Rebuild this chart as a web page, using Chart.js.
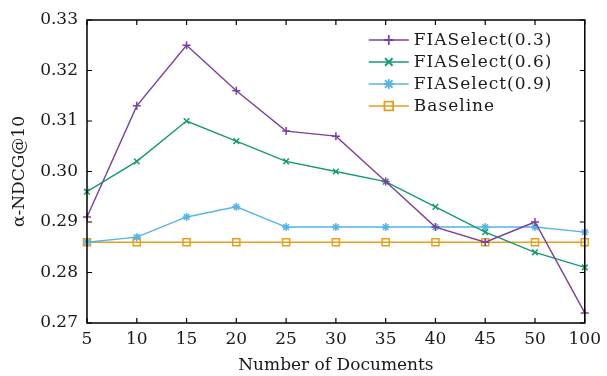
<!DOCTYPE html>
<html>
<head>
<meta charset="utf-8">
<script src="https://cdn.jsdelivr.net/npm/chart.js@4/dist/chart.umd.min.js"></script>
<style>
  html, body { margin: 0; padding: 0; background: #fff; }
  #wrap { width: 607px; height: 376px; }
</style>
</head>
<body>
<div id="wrap"><canvas id="chart"></canvas></div>
<script>
const docCounts = ["5", "10", "15", "20", "25", "30", "35", "40", "45", "50", "100"];
const fia03 = [0.291, 0.313, 0.325, 0.316, 0.308, 0.307, 0.298, 0.289, 0.286, 0.290, 0.272];
const fia06 = [0.296, 0.302, 0.310, 0.306, 0.302, 0.300, 0.298, 0.293, 0.288, 0.284, 0.281];
const fia09 = [0.286, 0.287, 0.291, 0.293, 0.289, 0.289, 0.289, 0.289, 0.289, 0.289, 0.288];
const baseline = [0.286, 0.286, 0.286, 0.286, 0.286, 0.286, 0.286, 0.286, 0.286, 0.286, 0.286];
const yTicks = [0.27, 0.28, 0.29, 0.30, 0.31, 0.32, 0.33];

const FONT = "'DejaVu Serif', 'Liberation Serif', serif";
const TEXT = "#1a1a1a";

function series(label, data, color, style, radius) {
    return {
        label: label,
        data: data,
        borderColor: color,
        backgroundColor: "rgba(0,0,0,0)",
        pointBorderColor: color,
        pointBackgroundColor: "rgba(0,0,0,0)",
        pointStyle: style,
        pointRadius: radius,
        pointBorderWidth: 1.5,
        borderWidth: 1.4,
        tension: 0,
        fill: false,
    };
}

// draw one legend marker the same way the points look
function marker(ctx, style, x, y, r) {
    ctx.beginPath();
    if (style === "cross" || style === "star") {
        ctx.moveTo(x - r, y); ctx.lineTo(x + r, y);
        ctx.moveTo(x, y - r); ctx.lineTo(x, y + r);
    }
    if (style === "crossRot" || style === "star") {
        const d = r * 0.75;
        ctx.moveTo(x - d, y - d); ctx.lineTo(x + d, y + d);
        ctx.moveTo(x - d, y + d); ctx.lineTo(x + d, y - d);
    }
    if (style === "rect") {
        const h = r * 0.72;
        ctx.rect(x - h, y - h, h * 2, h * 2);
    }
    ctx.stroke();
}

const framePlugin = {
    id: "frame",
    afterDraw(chart) {
        const { ctx, chartArea: a, scales } = chart;
        ctx.save();
        ctx.strokeStyle = "#000";
        ctx.lineWidth = 1.5;
        ctx.strokeRect(a.left, a.top, a.right - a.left, a.bottom - a.top);
        ctx.lineWidth = 1.2;
        ctx.beginPath();
        const t = 5;
        scales.x.ticks.forEach((tk, i) => {
            const px = scales.x.getPixelForTick(i);
            ctx.moveTo(px, a.bottom); ctx.lineTo(px, a.bottom - t);
            ctx.moveTo(px, a.top); ctx.lineTo(px, a.top + t);
        });
        yTicks.forEach(v => {
            const py = scales.y.getPixelForValue(v);
            ctx.moveTo(a.left, py); ctx.lineTo(a.left + t, py);
            ctx.moveTo(a.right, py); ctx.lineTo(a.right - t, py);
        });
        ctx.stroke();

        // legend inside the plot, top right
        const x0 = a.right - 216, y0 = a.top + 20, row = 22;
        chart.data.datasets.forEach((ds, i) => {
            const y = y0 + i * row;
            ctx.strokeStyle = ds.borderColor;
            ctx.lineWidth = ds.borderWidth;
            ctx.beginPath();
            ctx.moveTo(x0, y); ctx.lineTo(x0 + 40, y);
            ctx.stroke();
            ctx.lineWidth = 1.8;
            marker(ctx, ds.pointStyle, x0 + 20, y, ds.pointRadius + 1);
            ctx.fillStyle = TEXT;
            ctx.font = "17px " + FONT;
            ctx.letterSpacing = "1px";
            ctx.textAlign = "left";
            ctx.textBaseline = "middle";
            ctx.fillText(ds.label, x0 + 45, y + 1);
            ctx.letterSpacing = "0px";
        });
        ctx.restore();
    }
};

new Chart(document.getElementById("chart"), {
    type: "line",
    data: {
        labels: docCounts,
        datasets: [
            series("FIASelect(0.3)", fia03, "#7b3f9e", "cross", 4),
            series("FIASelect(0.6)", fia06, "#139a74", "crossRot", 4),
            series("FIASelect(0.9)", fia09, "#56b4e9", "star", 4),
            series("Baseline", baseline, "#e69f1a", "rect", 5),
        ],
    },
    options: {
        responsive: true,
        maintainAspectRatio: false,
        animation: false,
        layout: { padding: { top: 20, right: 20, left: 0, bottom: 0 } },
        plugins: { legend: { display: false }, tooltip: { enabled: false } },
        scales: {
            x: {
                offset: false,
                grid: { display: false, drawTicks: false },
                border: { display: false },
                ticks: { color: TEXT, font: { family: FONT, size: 17 }, padding: 6, maxRotation: 0, autoSkip: false },
                title: { display: true, text: "Number of Documents", color: TEXT, font: { family: FONT, size: 17 }, padding: { top: 2, bottom: 0 } },
                afterFit(scale) { scale.height = 53; },
            },
            y: {
                min: 0.27,
                max: 0.33,
                grid: { display: false, drawTicks: false },
                border: { display: false },
                afterBuildTicks(scale) { scale.ticks = yTicks.map(v => ({ value: v })); },
                ticks: { color: TEXT, font: { family: FONT, size: 17 }, padding: 9, callback: v => v.toFixed(2) },
                title: { display: true, text: "α-NDCG@10", color: TEXT, font: { family: FONT, size: 17 }, padding: { top: 9, bottom: 0 } },
                afterFit(scale) { scale.width = 87; },
            },
        },
    },
    plugins: [framePlugin],
});
</script>
</body>
</html>
